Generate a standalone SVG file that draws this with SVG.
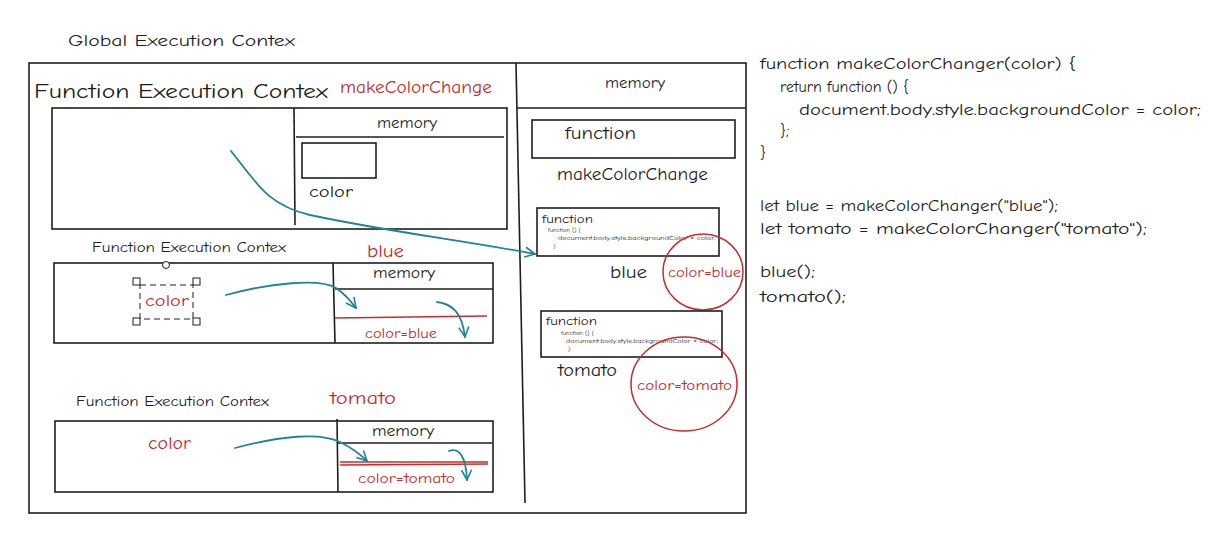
<svg xmlns="http://www.w3.org/2000/svg" width="1219" height="535" viewBox="0 0 1219 535">
<style>
.b{fill:none;stroke:#1e1e1e;stroke-width:1.6}
.r{fill:none;stroke:#c92a2a;stroke-width:1.5}
.t{fill:none;stroke:#1f8595;stroke-width:1.8;stroke-linecap:round}
text{font-family:"Comic Neue","Liberation Sans",sans-serif;fill:#1e1e1e}
.red{fill:#c92a2a}
.code{font-size:16px}
.tiny{font-size:5.5px}
</style>
<defs>
<marker id="ah" viewBox="0 0 12 12" refX="11" refY="6" markerWidth="12" markerHeight="12" markerUnits="userSpaceOnUse" orient="auto">
<path d="M1,1 L11,6 L1,11" fill="none" stroke="#1f8595" stroke-width="1.6"/>
</marker>
</defs>
<rect width="1219" height="535" fill="#fff"/>

<g id="global">
<text x="68" y="46" font-size="15" textLength="227" lengthAdjust="spacingAndGlyphs">Global Execution Contex</text>
<rect class="b" x="29" y="63" width="717" height="450"/>
<line class="b" x1="516" y1="63" x2="525" y2="503"/>
<line class="b" x1="516" y1="108" x2="746" y2="108"/>
<text x="605" y="88" font-size="16" textLength="60" lengthAdjust="spacingAndGlyphs">memory</text>
</g>

<g id="fec-make">
<text x="34" y="98" font-size="21" textLength="294" lengthAdjust="spacingAndGlyphs">Function Execution Contex</text>
<text class="red" x="340" y="93" font-size="17" textLength="152" lengthAdjust="spacingAndGlyphs">makeColorChange</text>
<rect class="b" x="52" y="108" width="455" height="121"/>
<line class="b" x1="294" y1="108" x2="295" y2="225"/>
<line class="b" x1="296" y1="137" x2="504" y2="137"/>
<text x="377" y="128" font-size="15" textLength="60" lengthAdjust="spacingAndGlyphs">memory</text>
<rect class="b" x="302" y="143" width="74" height="35"/>
<text x="309" y="197" font-size="16" textLength="44" lengthAdjust="spacingAndGlyphs">color</text>
</g>

<g id="fec-blue">
<text x="92" y="252" font-size="13" textLength="194" lengthAdjust="spacingAndGlyphs">Function Execution Contex</text>
<text class="red" x="367" y="257" font-size="17" textLength="37" lengthAdjust="spacingAndGlyphs">blue</text>
<rect class="b" x="54" y="263" width="439" height="80"/>
<line class="b" x1="333" y1="263" x2="335" y2="343"/>
<line class="b" x1="335" y1="289" x2="493" y2="289"/>
<text x="373" y="278" font-size="15" textLength="62" lengthAdjust="spacingAndGlyphs">memory</text>
<line class="r" x1="335" y1="318" x2="487" y2="316"/>
<text class="red" x="365" y="338" font-size="14" textLength="72" lengthAdjust="spacingAndGlyphs">color=blue</text>
<rect x="140" y="285" width="53" height="34" fill="none" stroke="#1e1e1e" stroke-width="1" stroke-dasharray="6,4"/>
<g fill="#fff" stroke="#1e1e1e" stroke-width="1">
<rect x="133" y="278" width="7" height="7"/>
<rect x="193" y="278" width="7" height="7"/>
<rect x="133" y="318" width="7" height="7"/>
<rect x="193" y="318" width="7" height="7"/>
<circle cx="166" cy="265" r="3.5"/>
</g>
<text class="red" x="145" y="306" font-size="16" textLength="44" lengthAdjust="spacingAndGlyphs">color</text>
</g>

<g id="fec-tomato">
<text x="76" y="406" font-size="13" textLength="193" lengthAdjust="spacingAndGlyphs">Function Execution Contex</text>
<text class="red" x="330" y="404" font-size="17" textLength="66" lengthAdjust="spacingAndGlyphs">tomato</text>
<rect class="b" x="55" y="421" width="438" height="71"/>
<line class="b" x1="337" y1="419" x2="338" y2="492"/>
<line class="b" x1="338" y1="443" x2="492" y2="443"/>
<text x="372" y="436" font-size="15" textLength="62" lengthAdjust="spacingAndGlyphs">memory</text>
<line class="r" x1="340" y1="462" x2="488" y2="462"/>
<line class="r" x1="340" y1="465" x2="488" y2="464"/>
<text class="red" x="358" y="483" font-size="14" textLength="97" lengthAdjust="spacingAndGlyphs">color=tomato</text>
<text class="red" x="148" y="449" font-size="17" textLength="43" lengthAdjust="spacingAndGlyphs">color</text>
</g>

<g id="mem-make">
<rect class="b" x="532" y="120" width="203" height="38"/>
<text x="565" y="139" font-size="17" textLength="71" lengthAdjust="spacingAndGlyphs">function</text>
<text x="557" y="180" font-size="17" textLength="151" lengthAdjust="spacingAndGlyphs">makeColorChange</text>
</g>

<g id="mem-blue">
<rect class="b" x="537" y="208" width="182" height="48"/>
<text x="542" y="223" font-size="12" textLength="51" lengthAdjust="spacingAndGlyphs">function</text>
<text class="tiny" x="548" y="232" textLength="33" lengthAdjust="spacingAndGlyphs">function () {</text>
<text class="tiny" x="558" y="240" textLength="158" lengthAdjust="spacingAndGlyphs">document.body.style.backgroundColor = color;</text>
<text class="tiny" x="553" y="248">};</text>
<text x="610" y="278" font-size="17" textLength="37" lengthAdjust="spacingAndGlyphs">blue</text>
<ellipse class="r" cx="703" cy="272" rx="40" ry="38"/>
<text class="red" x="668" y="277" font-size="13" textLength="73" lengthAdjust="spacingAndGlyphs">color=blue</text>
</g>

<g id="mem-tomato">
<rect class="b" x="541" y="311" width="181" height="46"/>
<text x="546" y="325" font-size="12" textLength="51" lengthAdjust="spacingAndGlyphs">function</text>
<text class="tiny" x="561" y="335" textLength="33" lengthAdjust="spacingAndGlyphs">function () {</text>
<text class="tiny" x="566" y="343" textLength="152" lengthAdjust="spacingAndGlyphs">document.body.style.backgroundColor = color;</text>
<text class="tiny" x="568" y="351">};</text>
<text x="558" y="376" font-size="17" textLength="59" lengthAdjust="spacingAndGlyphs">tomato</text>
<ellipse class="r" cx="684" cy="384" rx="53" ry="47"/>
<text class="red" x="637" y="390" font-size="14" textLength="95" lengthAdjust="spacingAndGlyphs">color=tomato</text>
</g>

<g id="code">
<text class="code" x="760" y="69" textLength="316" lengthAdjust="spacingAndGlyphs">function makeColorChanger(color) {</text>
<text class="code" x="780" y="92" textLength="129" lengthAdjust="spacingAndGlyphs">return function () {</text>
<text class="code" x="799" y="115" textLength="402" lengthAdjust="spacingAndGlyphs">document.body.style.backgroundColor = color;</text>
<text class="code" x="780" y="136">};</text>
<text class="code" x="760" y="158">}</text>
<text class="code" x="760" y="211" textLength="298" lengthAdjust="spacingAndGlyphs">let blue = makeColorChanger("blue");</text>
<text class="code" x="760" y="234" textLength="387" lengthAdjust="spacingAndGlyphs">let tomato = makeColorChanger("tomato");</text>
<text class="code" x="760" y="277" textLength="55" lengthAdjust="spacingAndGlyphs">blue();</text>
<text class="code" x="760" y="302" textLength="86" lengthAdjust="spacingAndGlyphs">tomato();</text>
</g>

<g id="connectors">
<path class="t" d="M231,151 C258,185 268,205 310,215 C390,232 460,240 535,254" marker-end="url(#ah)"/>
<path class="t" d="M226,295 C270,283 320,278 336,288 C345,294 350,300 356,308" marker-end="url(#ah)"/>
<path class="t" d="M437,302 C452,304 462,312 465,337" marker-end="url(#ah)"/>
<path class="t" d="M235,448 C280,436 320,432 340,442 C352,448 360,454 367,461" marker-end="url(#ah)"/>
<path class="t" d="M449,451 C460,447 466,458 467,480" marker-end="url(#ah)"/>
</g>
</svg>
